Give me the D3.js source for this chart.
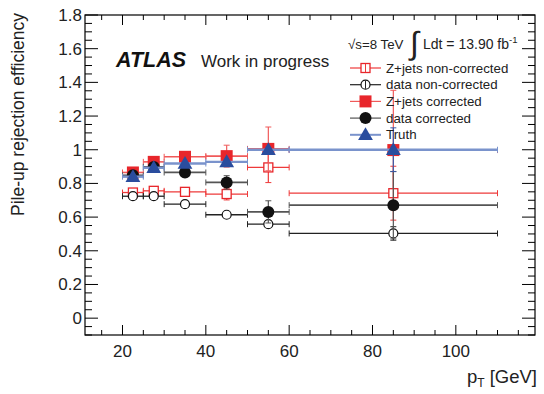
<!DOCTYPE html>
<html>
<head>
<meta charset="utf-8">
<script src="https://cdn.jsdelivr.net/npm/d3@7"></script>
<style>
  body { margin: 0; background: #fff; }
  text { font-family: "Liberation Sans", Arial, sans-serif; }
</style>
</head>
<body>
<script>
// bins in pT [GeV]
const binLo = [20, 25, 30, 40, 50, 60];
const binHi = [25, 30, 40, 50, 60, 110];
const binMid = [22.5, 27.5, 35, 45, 55, 85];

// efficiencies and their errors
const zjetsNC = [0.746, 0.756, 0.750, 0.737, 0.895, 0.742];
const zjetsNCErr = [0.01, 0.01, 0.01, 0.035, 0.09, 0.16];
const dataNC = [0.724, 0.724, 0.677, 0.614, 0.558, 0.503];
const dataNCErr = [0.008, 0.008, 0.008, 0.008, 0.01, 0.04];
const zjetsC = [0.865, 0.928, 0.958, 0.962, 1.005, 0.998];
const zjetsCErr = [0.012, 0.012, 0.015, 0.065, 0.13, 0.355];
const dataC = [0.848, 0.898, 0.865, 0.806, 0.631, 0.671];
const dataCErr = [0.01, 0.01, 0.012, 0.04, 0.066, 0.2];
const truth = [0.840, 0.893, 0.918, 0.928, 1.0, 1.0];
const truthErr = [0.005, 0.005, 0.005, 0.005, 0.005, 0.13];

const xTicks = [20, 40, 60, 80, 100];
const yTicks = [0, 0.2, 0.4, 0.6, 0.8, 1, 1.2, 1.4, 1.6, 1.8];

const legendLabels = ['Z+jets non-corrected', 'data non-corrected', 'Z+jets corrected', 'data corrected', 'Truth'];

const width = 544, height = 394;
const frame = {left: 85, right: 535, top: 15, bottom: 335};

const svg = d3.select('body').append('svg')
              .attr('width', width)
              .attr('height', height);

const x = d3.scaleLinear().domain([11, 119]).range([frame.left, frame.right]);
const y = d3.scaleLinear().domain([-0.1, 1.8]).range([frame.bottom, frame.top]);

// ticks on all four sides, ROOT style (inside the frame)
const xMinor = d3.range(15, 119, 5);
const yMinor = d3.range(-0.1, 1.801, 0.05).map(v => Math.round(v * 100) / 100);
const isMajorX = v => v % 20 === 0;
const isMajorY = v => Math.abs(Math.round(v * 5) - v * 5) < 1e-6 && v >= 0;

const tk = svg.append('g').attr('stroke', '#000').attr('stroke-width', 1);
xMinor.forEach(v => {
   const len = isMajorX(v) ? 10 : 5;
   tk.append('line').attr('x1', x(v)).attr('x2', x(v)).attr('y1', frame.bottom).attr('y2', frame.bottom - len);
   tk.append('line').attr('x1', x(v)).attr('x2', x(v)).attr('y1', frame.top).attr('y2', frame.top + len);
});
yMinor.forEach(v => {
   const len = isMajorY(v) ? 13 : 7;
   tk.append('line').attr('y1', y(v)).attr('y2', y(v)).attr('x1', frame.left).attr('x2', frame.left + len);
   tk.append('line').attr('y1', y(v)).attr('y2', y(v)).attr('x1', frame.right).attr('x2', frame.right - len);
});

svg.append('rect')
   .attr('x', frame.left).attr('y', frame.top)
   .attr('width', frame.right - frame.left).attr('height', frame.bottom - frame.top)
   .attr('fill', 'none').attr('stroke', '#000').attr('stroke-width', 1.2);

// tick labels
svg.append('g').selectAll('text').data(xTicks).enter().append('text')
   .attr('x', d => x(d)).attr('y', 357)
   .attr('text-anchor', 'middle').attr('font-size', 17).attr('fill', '#222')
   .text(d => d);
svg.append('g').selectAll('text').data(yTicks).enter().append('text')
   .attr('x', 82).attr('y', d => y(d) + 6)
   .attr('text-anchor', 'end').attr('font-size', 17).attr('fill', '#222')
   .text(d => d);

// axis titles
svg.append('text')
   .attr('transform', 'translate(24,13) rotate(-90)')
   .attr('text-anchor', 'end').attr('font-size', 17.5).attr('fill', '#222')
   .text('Pile-up rejection efficiency');
const xt = svg.append('text').attr('x', 537).attr('y', 383)
   .attr('text-anchor', 'end').attr('font-size', 18.5).attr('fill', '#222');
xt.append('tspan').text('p');
xt.append('tspan').attr('font-size', 12).attr('dy', 4).text('T');
xt.append('tspan').attr('dy', -4).text(' [GeV]');

const plot = svg.append('g');

function drawSeries(vals, errs, opt) {
   const g = plot.append('g');
   vals.forEach((v, i) => {
      const cx = x(binMid[i]), cy = y(v);
      // horizontal bar with end caps
      g.append('line').attr('x1', x(binLo[i])).attr('x2', x(binHi[i])).attr('y1', cy).attr('y2', cy)
       .attr('stroke', opt.line).attr('stroke-width', opt.lw);
      [binLo[i], binHi[i]].forEach(b => {
         g.append('line').attr('x1', x(b)).attr('x2', x(b)).attr('y1', cy - 3).attr('y2', cy + 3)
          .attr('stroke', opt.line).attr('stroke-width', 1);
      });
      // vertical error with caps
      const y0 = y(v - errs[i]), y1 = y(v + errs[i]);
      g.append('line').attr('x1', cx).attr('x2', cx).attr('y1', y0).attr('y2', y1)
       .attr('stroke', opt.vline || opt.line).attr('stroke-width', 1.2);
      [y0, y1].forEach(yy => {
         g.append('line').attr('x1', cx - 3).attr('x2', cx + 3).attr('y1', yy).attr('y2', yy)
          .attr('stroke', opt.vline || opt.line).attr('stroke-width', 1);
      });
      drawMarker(g, cx, cy, opt.marker);
   });
}

function drawMarker(g, cx, cy, m) {
   if (m === 'openSquare') {
      g.append('rect').attr('x', cx - 4.5).attr('y', cy - 4.5).attr('width', 9).attr('height', 9)
       .attr('fill', '#fff').attr('stroke', '#e8262b').attr('stroke-width', 1.3);
   } else if (m === 'openCircle') {
      g.append('circle').attr('cx', cx).attr('cy', cy).attr('r', 4.5)
       .attr('fill', '#fff').attr('stroke', '#111').attr('stroke-width', 1.2);
   } else if (m === 'square') {
      g.append('rect').attr('x', cx - 6).attr('y', cy - 6).attr('width', 12).attr('height', 12)
       .attr('fill', '#e8262b');
   } else if (m === 'circle') {
      g.append('circle').attr('cx', cx).attr('cy', cy).attr('r', 6).attr('fill', '#111');
   } else if (m === 'triangle') {
      g.append('path').attr('d', d3.symbol(d3.symbolTriangle, 95)()).attr('transform', `translate(${cx},${cy + 1})`)
       .attr('fill', '#2a4d9e');
   }
}

const styles = [
   {marker: 'openSquare', line: '#ee3a3a', lw: 1.3},
   {marker: 'openCircle', line: '#222', lw: 1.3},
   {marker: 'square', line: '#f05a5a', lw: 1.6},
   {marker: 'circle', line: '#555', lw: 1.8},
   {marker: 'triangle', line: '#7a93cc', lw: 2.4, vline: '#3a5aa8'}
];

drawSeries(zjetsNC, zjetsNCErr, styles[0]);
drawSeries(dataNC, dataNCErr, styles[1]);
drawSeries(zjetsC, zjetsCErr, styles[2]);
drawSeries(dataC, dataCErr, styles[3]);
drawSeries(truth, truthErr, styles[4]);

// texts in the pad
svg.append('text').attr('x', 116).attr('y', 67)
   .attr('font-size', 21.5).attr('font-weight', 'bold').attr('font-style', 'italic').attr('fill', '#111')
   .text('ATLAS');
svg.append('text').attr('x', 201).attr('y', 67)
   .attr('font-size', 17).attr('fill', '#222')
   .text('Work in progress');

const lum = svg.append('text').attr('x', 348).attr('y', 49).attr('font-size', 13.3).attr('fill', '#222');
lum.append('tspan').text('\u221As=8 TeV');
svg.append('text').attr('x', 410).attr('y', 54).attr('font-size', 32).attr('fill', '#222')
   .attr('font-family', 'DejaVu Sans').text('\u222B');
const lum2 = svg.append('text').attr('x', 423).attr('y', 49).attr('font-size', 14).attr('fill', '#222');
lum2.append('tspan').text('Ldt = 13.90 fb');
lum2.append('tspan').attr('font-size', 9.5).attr('dy', -6).text('-1');

// legend
const leg = svg.append('g');
legendLabels.forEach((lab, i) => {
   const ly = 68 + i * 16.7;
   const st = styles[i];
   leg.append('line').attr('x1', 350).attr('x2', 381).attr('y1', ly).attr('y2', ly)
      .attr('stroke', st.line).attr('stroke-width', i === 4 ? 2 : 1.2);
   drawMarker(leg, 365.5, ly, st.marker);
   if (i < 2) {
      leg.append('line').attr('x1', 365.5).attr('x2', 365.5).attr('y1', ly - 4).attr('y2', ly + 4)
         .attr('stroke', st.line).attr('stroke-width', 1);
   }
   leg.append('text').attr('x', 386).attr('y', ly + 4.5).attr('font-size', 13.3).attr('fill', '#222')
      .text(lab);
});
</script>
</body>
</html>
